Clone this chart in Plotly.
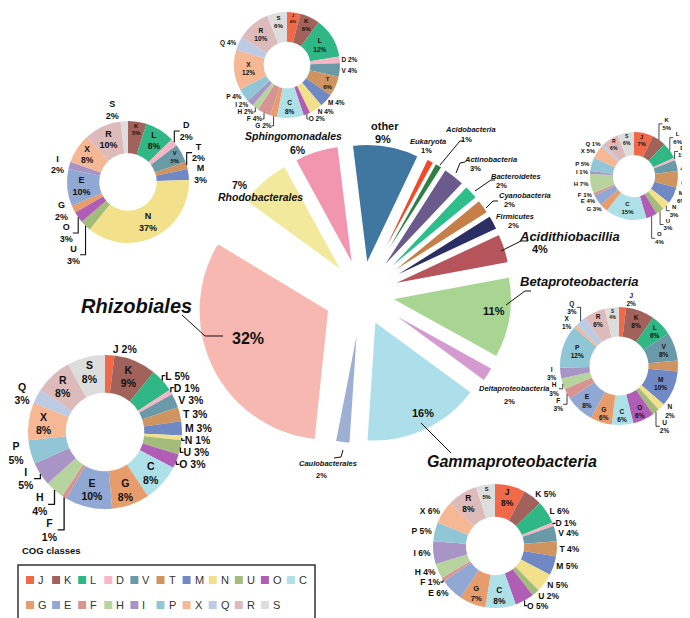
import plotly.graph_objects as go

W, H = 690, 618
FONT = "Liberation Sans, Arial, sans-serif"

# ---------------- data ----------------
taxa = ["other", "Eukaryota", "Acidobacteria", "Actinobacteria", "Bacteroidetes",
        "Cyanobacteria", "Firmicutes", "Acidithiobacillia", "Betaproteobacteria",
        "Deltaproteobacteria", "Gammaproteobacteria", "Caulobacterales",
        "Rhizobiales", "Rhodobacterales", "Sphingomonadales"]
taxa_pct = [9, 1, 1, 3, 2, 2, 2, 4, 11, 2, 16, 2, 32, 7, 6]
taxa_colors = ["#3F77A0", "#F04A2A", "#2E8044", "#6B5A8C", "#2DBE8C",
               "#C77F4A", "#2B2E62", "#B5545A", "#A8D592",
               "#D59BD0", "#ADDFEB", "#9DB0D3",
               "#F6B8B0", "#F3E99C", "#F296AF"]

cog_classes = ["J", "K", "L", "D", "V", "T", "M", "N", "U", "O", "C",
               "G", "E", "F", "H", "I", "P", "X", "Q", "R", "S"]
cog_colors = ["#F06A4A", "#A0625B", "#2FB885", "#F7B6C8", "#6A9AA8", "#CF9460",
              "#7089C4", "#F2E08A", "#A3BC7C", "#B05DB5", "#AEE0E8",
              "#E79D6B", "#91A7D4", "#D89393", "#B8D49E", "#A895C6",
              "#90C6D6", "#F6B894", "#BDCBE5", "#DDBBBB", "#DDDDDD"]

#                        J  K  L  D  V  T  M   N  U  O  C   G  E   F  H  I  P   X  Q  R   S
cog_rhizobiales =       [2, 9, 5, 1, 3, 3, 3,  1, 3, 3, 8,  8, 10, 1, 4, 5, 5,  8, 3, 8,  8]
cog_rhodobacterales =   [0, 5, 8, 2, 5, 2, 3, 37, 3, 3, 0,  2, 10, 0, 0, 2, 0,  8, 0, 10, 2]
cog_sphingomonadales =  [4, 6, 12, 2, 4, 6, 4, 4, 0, 2, 8,  2, 0,  4, 2, 2, 4, 12, 4, 10, 6]
cog_acidithiobacillia = [7, 5, 6, 1, 4, 6, 6,  3, 3, 4, 15, 3, 4,  1, 7, 1, 5,  5, 1, 6,  6]
cog_betaproteobacteria = [2, 8, 6, 0, 8, 3, 10, 2, 2, 6, 6, 6, 8,  3, 3, 3, 12, 1, 3, 6,  4]
cog_gammaproteobacteria = [8, 5, 6, 1, 4, 4, 5, 5, 2, 5, 8, 7, 6,  1, 4, 6, 5,  6, 0, 8,  5]


# ---------------- helpers ----------------
def px(x):
    return x / W


def py(y):
    return 1 - y / H


def dom(cx, cy, half):
    return dict(x=[px(cx - half), px(cx + half)], y=[py(cy + half), py(cy - half)])


fig = go.Figure()

# ---------------- central exploded pie ----------------
CX, CY = 354, 286
R_MAIN, PULL_MAIN, ROT_MAIN = 120, 30, -7
R_BIG, PULL_BIG, ROT_BIG = 130, 37, -12
big = "Rhizobiales"
transparent = "rgba(0,0,0,0)"

for is_big in (False, True):
    R, P, rot = (R_BIG, PULL_BIG, ROT_BIG) if is_big else (R_MAIN, PULL_MAIN, ROT_MAIN)
    pull = P / R
    cols = [c if ((t == big) == is_big) else transparent for t, c in zip(taxa, taxa_colors)]
    lcols = ["white" if ((t == big) == is_big) else transparent for t in taxa]
    fig.add_trace(go.Pie(
        labels=taxa, values=taxa_pct, sort=False, direction="clockwise", rotation=rot,
        marker=dict(colors=cols, line=dict(color=lcols, width=1.5)),
        pull=[pull] * len(taxa), textinfo="none", hoverinfo="label+value",
        domain=dom(CX, CY, R + P), showlegend=False))

# ---------------- COG donuts ----------------
donuts = [
    # values, cx, cy, R, hole, font size, classes labelled inside, halves with one-line outside labels
    (cog_rhizobiales, 97, 424, 77, 0.51, 10.5, "KCGEXRS", "right"),
    (cog_rhodobacterales, 120, 174, 61, 0.47, 9, "KLVNERX", ""),
    (cog_sphingomonadales, 279, 57, 53, 0.44, 6.5, "JKLTCXRS", "leftright"),
    (cog_acidithiobacillia, 626, 168, 44, 0.48, 6, "JCRS", "left"),
    (cog_betaproteobacteria, 611, 358, 59, 0.5, 6.5, "KLVMOCGEPRS", ""),
    (cog_gammaproteobacteria, 487, 538, 62, 0.47, 8.5, "JSRGC", "leftright"),
]
for vals, cx, cy, R, hole, fs, inside, oneline in donuts:
    idx = [i for i, v in enumerate(vals) if v > 0]
    total = sum(vals[i] for i in idx)
    pos, tmpl, cum = [], [], 0
    for i in idx:
        mid = (cum + vals[i] / 2) / total
        cum += vals[i]
        half = "right" if mid < 0.5 else "left"
        if cog_classes[i] in inside:
            pos.append("inside")
            tmpl.append("<b>%{label}<br>%{value}%</b>")
        else:
            pos.append("outside")
            if half in oneline:
                tmpl.append("<b>%{label} %{value}%</b>")
            else:
                tmpl.append("<b>%{label}<br>%{value}%</b>")
    fig.add_trace(go.Pie(
        labels=[cog_classes[i] for i in idx], values=[vals[i] for i in idx],
        sort=False, direction="clockwise", rotation=0, hole=hole,
        marker=dict(colors=[cog_colors[i] for i in idx], line=dict(color="white", width=0)),
        textposition=pos, texttemplate=tmpl,
        textfont=dict(size=fs, color="#111", family=FONT),
        insidetextfont=dict(size=fs, color="#111", family=FONT),
        outsidetextfont=dict(size=fs, color="#111", family=FONT),
        insidetextorientation="horizontal", automargin=False,
        hoverinfo="label+value", domain=dom(cx, cy, R), showlegend=False))

# ---------------- central labels ----------------
ann = []


def label(x, y, text, size, italic=True, anchor="center"):
    t = f"<b><i>{text}</i></b>" if italic else f"<b>{text}</b>"
    ann.append(dict(x=px(x), y=py(y), xref="paper", yref="paper", text=t, showarrow=False,
                    xanchor=anchor, yanchor="middle", font=dict(family=FONT, size=size, color="#111")))


central_labels = [
    # name, (x,y) name, name size, italic, (x,y) pct, pct size
    ("other", (377, 118), 11, False, (375, 131), 11),
    ("Eukaryota", (420, 133), 7.5, True, (418, 142), 7.5),
    ("Acidobacteria", (462, 121), 7.5, True, (458, 131), 7.5),
    ("Actinobacteria", (483, 152), 7.5, True, (467, 160), 7.5),
    ("Bacteroidetes", (508, 168), 7.5, True, (493, 177), 7.5),
    ("Cyanobacteria", (517, 188), 7.5, True, (502, 197), 7.5),
    ("Firmicutes", (507, 209), 7.5, True, (505, 218), 7.5),
    ("Acidithiobacillia", (561, 228), 13, True, (532, 241), 11),
    ("Betaproteobacteria", (571, 274), 13, True, (486, 303), 11),
    ("Deltaproteobacteria", (506, 381), 7.5, True, (502, 393), 7.5),
    ("Gammaproteobacteria", (504, 453), 16, True, (415, 405), 11),
    ("Caulobacterales", (320, 455), 7.5, True, (313, 467), 7.5),
    ("Rhizobiales", (128, 298), 20, True, (240, 330), 16),
    ("Rhodobacterales", (253, 189), 10.5, True, (232, 177), 10.5),
    ("Sphingomonadales", (285, 128), 10.5, True, (290, 142), 10.5),
]
pct_of = dict(zip(taxa, taxa_pct))
for name, (nx, ny), ns, it, (qx, qy), qs in central_labels:
    label(nx, ny, name, ns, it)
    label(qx, qy, f"{pct_of[name]}%", qs, False)

# leader lines for central labels
leaders = [
    [(432, 157), (452, 133), (456, 133)],
    [(448, 165), (452, 155), (457, 154)],
    [(467, 183), (483, 172), (487, 172)],
    [(478, 200), (485, 193), (490, 193)],
    [(493, 243), (513, 233), (520, 233)],
    [(498, 297), (517, 283), (523, 283)],
    [(413, 415), (443, 445)],
    [(335, 442), (333, 449), (326, 450)],
    [(215, 328), (197, 328), (174, 307)],
]
shapes = []
for pts in leaders:
    path = "M " + " L ".join(f"{px(x):.5f},{py(y):.5f}" for x, y in pts)
    shapes.append(dict(type="path", xref="paper", yref="paper", path=path,
                       line=dict(color="#111", width=1)))

# ---------------- manual legend ----------------
ann.append(dict(x=px(12), y=py(542), xref="paper", yref="paper", text="<b>COG classes</b>",
                showarrow=False, xanchor="left", yanchor="middle",
                font=dict(family=FONT, size=9.5, color="#111")))
shapes.append(dict(type="rect", xref="paper", yref="paper", x0=px(10), x1=px(307),
                   y0=py(613), y1=py(557), line=dict(color="#333", width=1.5)))
per_row = 11
for i, (cls, col) in enumerate(zip(cog_classes, cog_colors)):
    r, c = divmod(i, per_row)
    x0 = 18 + 26.1 * c
    yc = 572 + 25 * r
    shapes.append(dict(type="rect", xref="paper", yref="paper", x0=px(x0), x1=px(x0 + 8),
                       y0=py(yc + 4), y1=py(yc - 4), fillcolor=col, line=dict(width=0)))
    ann.append(dict(x=px(x0 + 10), y=py(yc), xref="paper", yref="paper", text=cls,
                    showarrow=False, xanchor="left", yanchor="middle",
                    font=dict(family=FONT, size=11, color="#333")))

fig.update_layout(width=W, height=H,
                  margin=dict(l=0, r=0, t=0, b=0, pad=0, autoexpand=False),
                  paper_bgcolor="white", plot_bgcolor="white", showlegend=False,
                  annotations=ann, shapes=shapes)

fig.write_html("out.html")
